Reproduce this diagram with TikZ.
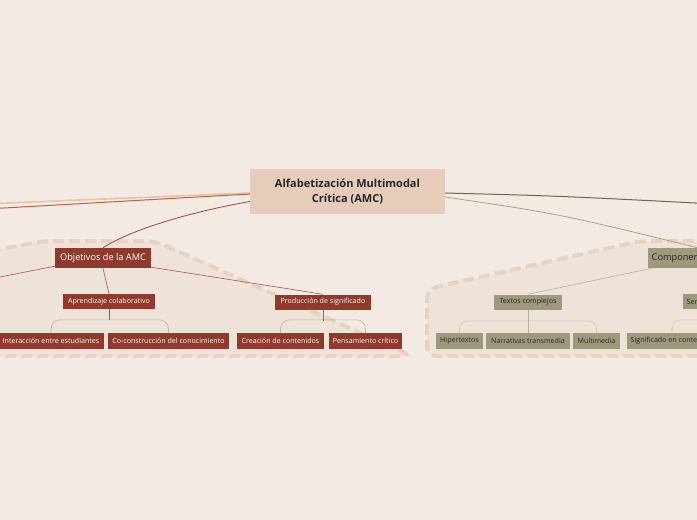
\documentclass[tikz,border=0pt]{standalone}
\usepackage{fontspec}
\setmainfont{Open Sans}
\usepackage{tikz}
\usetikzlibrary{positioning,arrows.meta}

\definecolor{bgc}{HTML}{F3EBE3}
\definecolor{zonec}{HTML}{EFE3D9}
\definecolor{zoneline}{HTML}{E8D2C1}
\definecolor{rootc}{HTML}{E7CCBA}
\definecolor{redc}{HTML}{8E3B2D}
\definecolor{redln}{HTML}{A5584A}
\definecolor{redbr}{HTML}{CFAE9F}
\definecolor{olvc}{HTML}{9C9A7B}
\definecolor{olvln}{HTML}{B5B399}
\definecolor{olvbr}{HTML}{CEC8B5}
\definecolor{orgln}{HTML}{C0623A}
\definecolor{orgpale}{HTML}{E5C4AC}
\definecolor{grnln}{HTML}{5F6B52}
\definecolor{olvmain}{HTML}{A6A384}

\begin{document}
\begin{tikzpicture}[
    x=1pt, y=-1pt,
    font=\sffamily,
    box/.style={inner sep=0pt, align=center},
    root/.style={box, fill=rootc, text=black!85, font=\bfseries\fontsize{11}{15}\selectfont,
                 minimum width=195pt, minimum height=45pt},
    topic/.style={box, minimum height=20pt, font=\fontsize{9.2}{10}\selectfont},
    leaf/.style={box, font=\fontsize{7.1}{8}\selectfont},
    redtopic/.style={topic, fill=redc, text=white},
    redsub/.style={leaf, fill=redc, text=white, minimum height=15pt},
    redleaf/.style={leaf, fill=redc, text=white, minimum height=16pt},
    olvtopic/.style={topic, fill=olvc, text=black!85},
    olvsub/.style={leaf, fill=olvc, text=black!85, minimum height=15pt},
    olvleaf/.style={leaf, fill=olvc, text=black!85, minimum height=16pt},
    cut/.style={anchor=west, inner xsep=3.5pt},
    zone/.style={fill=zonec, draw=zoneline, line width=4pt, dash pattern=on 11pt off 5pt,
                 rounded corners=10pt},
    redcon/.style={draw=redln, line width=0.6pt},
    olvcon/.style={draw=olvln, line width=0.6pt},
    redbrk/.style={draw=redbr, line width=0.6pt, rounded corners=9pt},
    olvbrk/.style={draw=olvbr, line width=0.6pt, rounded corners=9pt},
  ]
    \clip (0,0) rectangle (697,520);
    \fill[bgc] (0,0) rectangle (697,520);

    % ---------- zones ----------
    \draw[zone] (-10,251) -- (45,241) -- (155,241) -- (412,356) -- (-10,356);
    \draw[zone] (710,241) -- (640,241) -- (427,289) -- (427,356) -- (710,356);

    % ---------- root ----------
    \node[root] (amc) at (347.5,191.5) {Alfabetización Multimodal\\Crítica (AMC)};

    % ---------- left branch ----------
    \node[redtopic, minimum width=96pt] (obj)   at (103,258)   {Objetivos de la AMC};
    \node[redsub, minimum width=92pt]   (apr)   at (109,301.5) {Aprendizaje colaborativo};
    \node[redsub, minimum width=96pt]   (prod)  at (323,302)   {Producción de significado};
    \node[redleaf, minimum width=106pt] (inter) at (51,341)    {Interacción entre estudiantes};
    \node[redleaf, minimum width=121pt] (cocon) at (168.5,341) {Co-construcción del conocimiento};
    \node[redleaf, minimum width=87pt]  (crea)  at (280.5,341) {Creación de contenidos};
    \node[redleaf, minimum width=73pt]  (pens)  at (365.5,341) {Pensamiento crítico};

    % ---------- right branch ----------
    \node[olvtopic, cut] (comp) at (648,258) {Componentes de la AMC};
    \node[olvsub, minimum width=68pt]   (txt)    at (528,302)   {Textos complejos};
    \node[olvsub, cut] (sen) at (683,301.5) {Sentido};
    \node[olvleaf, minimum width=47pt]  (hiper)  at (459.5,341) {Hipertextos};
    \node[olvleaf, minimum width=84pt]  (narr)   at (528,341)   {Narrativas transmedia};
    \node[olvleaf, minimum width=47pt]  (multi)  at (596.5,341) {Multimedia};
    \node[olvleaf, cut] (signif) at (627,341) {Significado en contexto};

    % ---------- off-page ends ----------
    \coordinate (offA) at (-5,203.5);
    \coordinate (offB) at (-5,208.5);
    \coordinate (offC) at (-5,278);
    \coordinate (offD) at (705,203.5);
    \coordinate (offE) at (740,333);

    % ---------- connectors ----------
    \draw[orgpale, line width=1.6pt] ([yshift=-1.5pt]amc.west) -- (offA);
    \draw[orgln, line width=1pt] ([yshift=-2.5pt]amc.west) -- (offB);
    \draw[redln, line width=0.9pt] ([yshift=-10pt]amc.west) .. controls (190,212) and (130,230) .. (obj.north);
    \draw[grnln, line width=1pt] ([yshift=-1.5pt]amc.east) .. controls (560,196) .. (offD);
    \draw[olvmain, line width=0.8pt] ([yshift=-5.5pt]amc.east) .. controls (560,214) .. ([xshift=50pt]comp.north west);

    \draw[redcon] ([yshift=2pt]obj.south west) -- (offC);
    \draw[redcon] (obj.south) -- (apr.north);
    \draw[redcon] ([yshift=1pt]obj.south east) -- (prod.north);
    \draw[olvcon] ([xshift=4pt]comp.south west) -- (txt.north);

    % ---------- brackets ----------
    \draw[redbrk] (inter.north) -- ++(0,-13) -| (cocon.north);
    \draw[redbrk] (crea.north) -- ++(0,-13) -| (pens.north);
    \draw[olvbrk] (hiper.north) -- ++(0,-12) -| (multi.north);
    \draw[olvbrk] ([xshift=45pt]signif.north west) -- ++(0,-13) -| (offE);
    \foreach \a/\b in {apr/11, prod/11} \draw[redln, line width=0.6pt] (\a.south) -- ++(0,\b);
    \draw[olvln, line width=0.6pt] (txt.south) -- (narr.north);
\end{tikzpicture}
\end{document}
